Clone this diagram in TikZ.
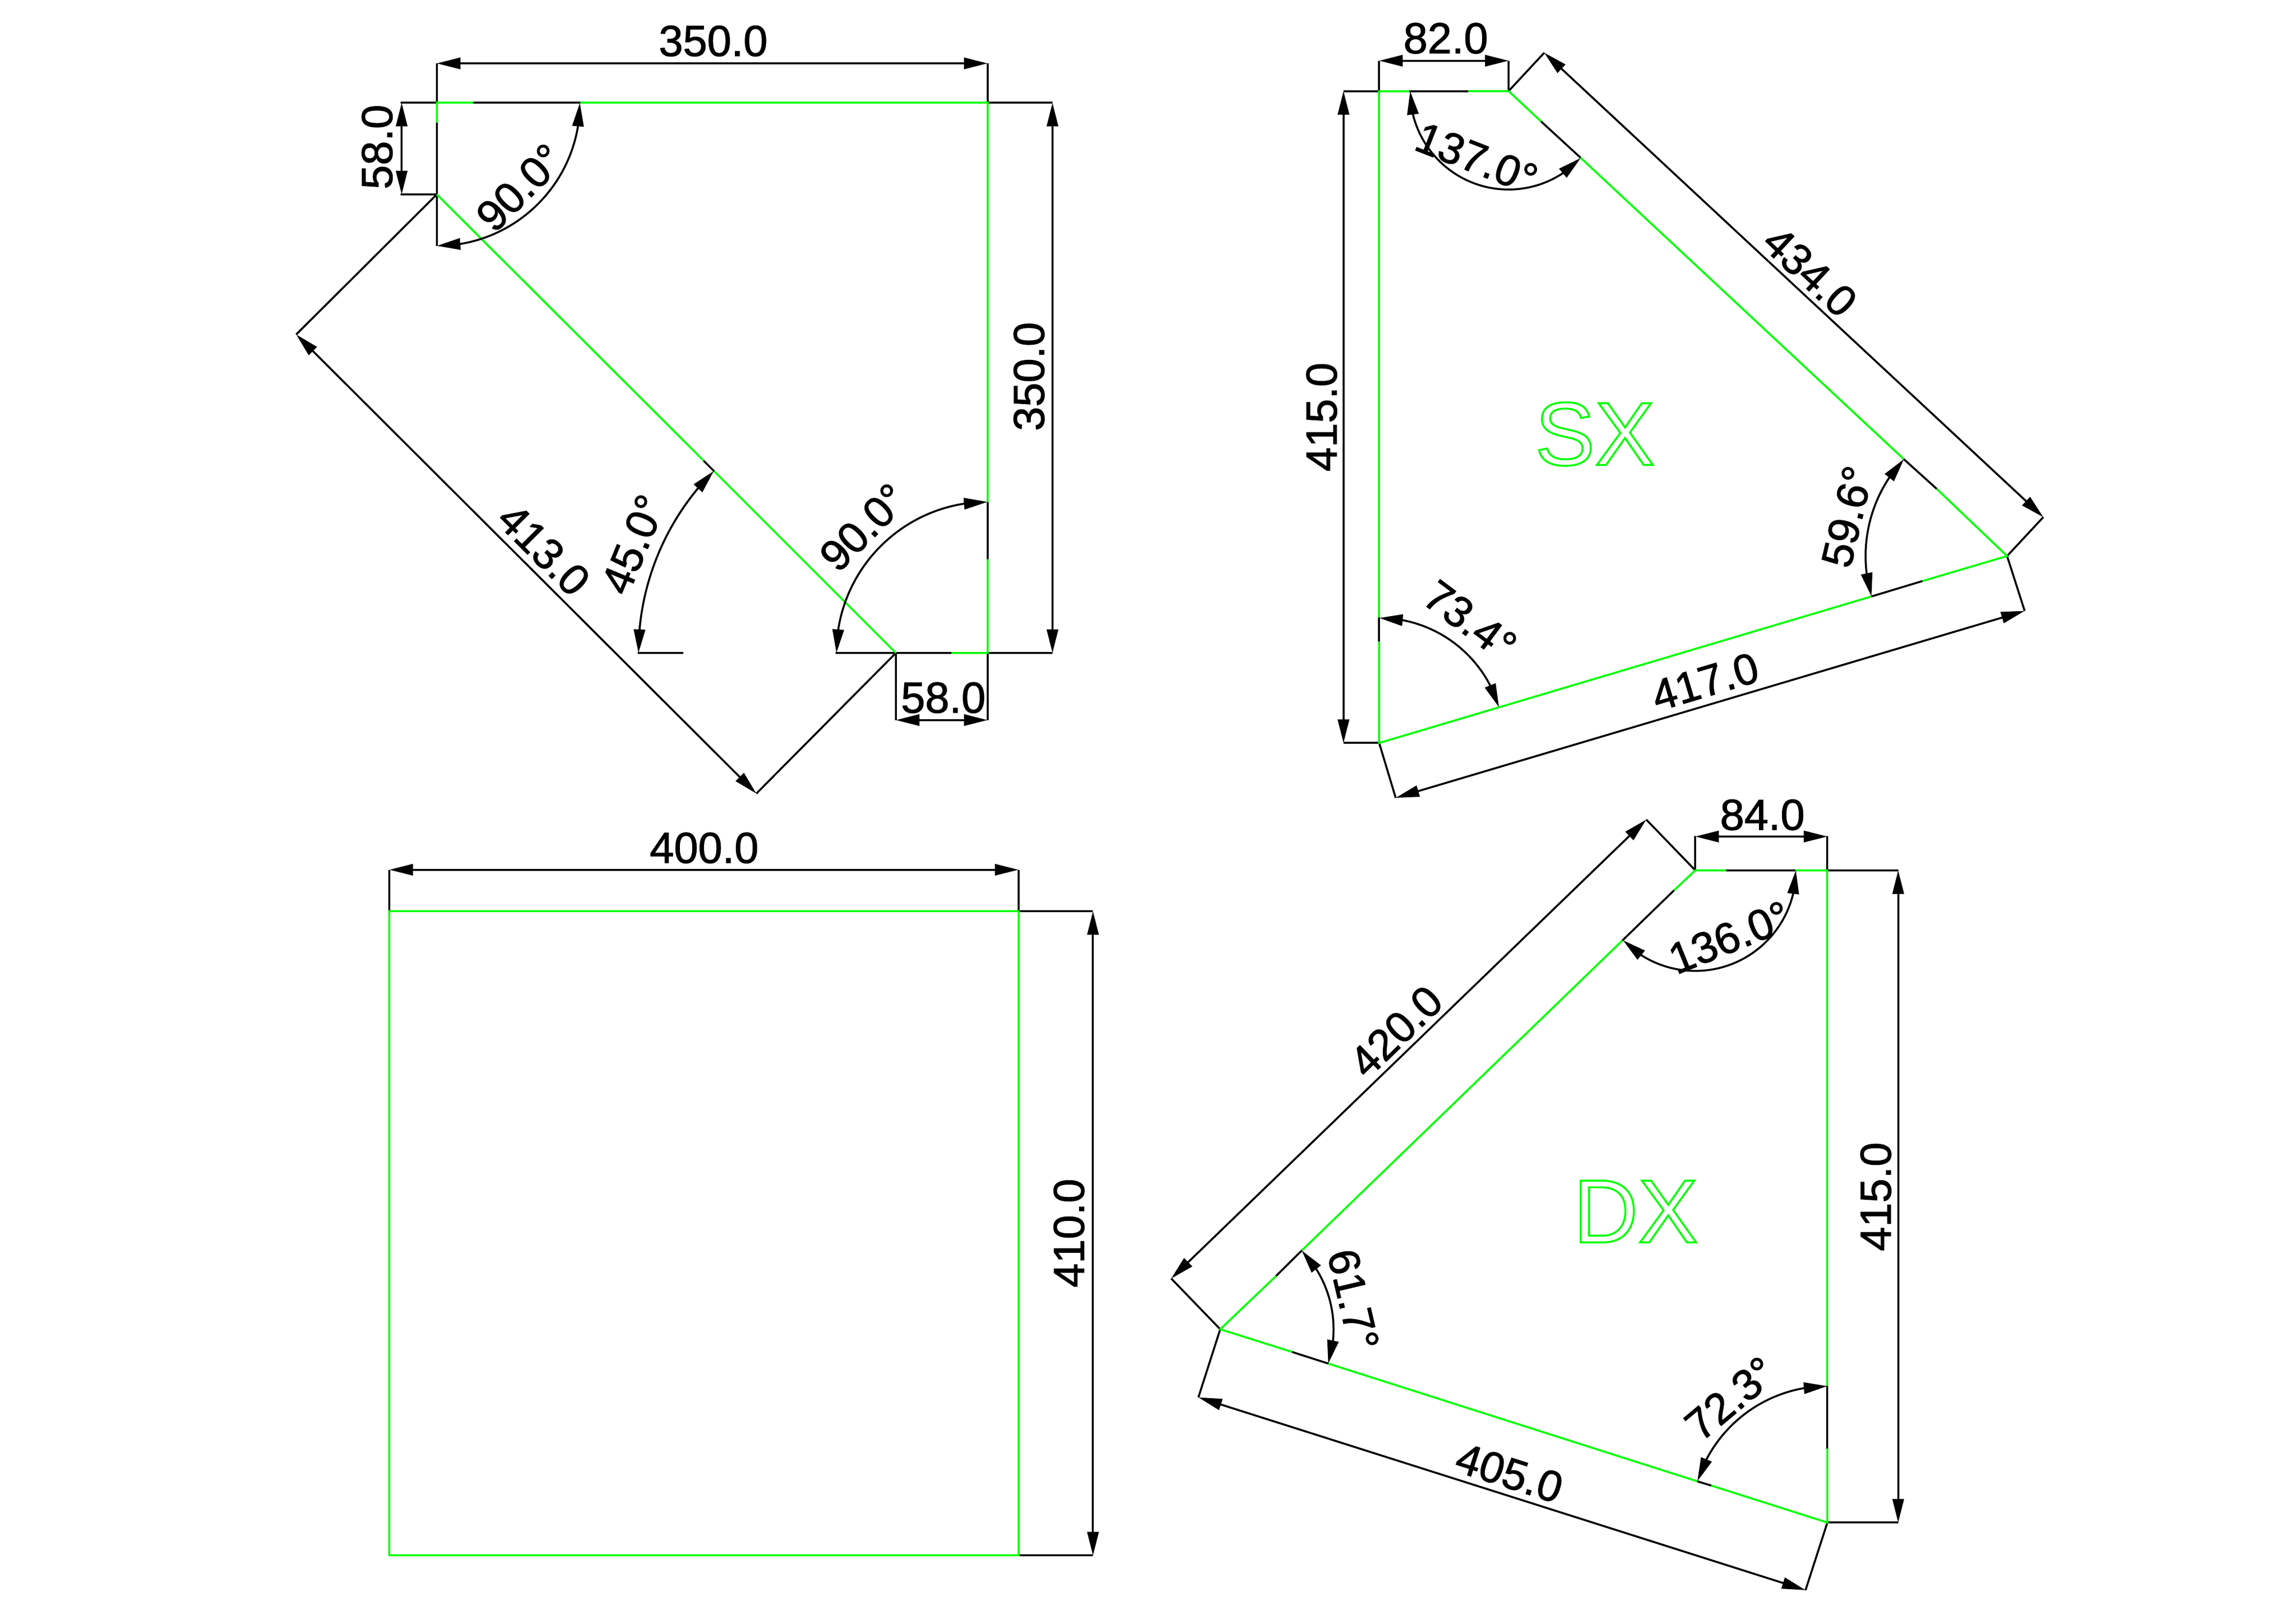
\documentclass[tikz,border=0pt]{standalone}
\usepackage{fontspec}
\setmainfont{Liberation Sans}
\usetikzlibrary{arrows.meta,bending}
\definecolor{cadgreen}{RGB}{0,255,0}
\tikzset{
  blk/.style={draw=black,line width=0.04cm},
  grn/.style={draw=cadgreen,line width=0.04cm},
  dimline/.style={draw=black,line width=0.04cm,{Triangle[length=0.48cm,width=0.23cm]}-{Triangle[length=0.48cm,width=0.23cm]}},
  lbl/.style={inner sep=0pt,outer sep=0pt,font=\fontsize{25.2pt}{28pt}\selectfont,
    execute at begin node={\special{pdf:code 2 Tr 0.35 w 0 G}},
    execute at end node={\special{pdf:code 0 Tr}}},
  outlbl/.style={inner sep=0pt,outer sep=0pt,font=\fontsize{52pt}{56pt}\selectfont,
    execute at begin node={\special{pdf:code 1 Tr 1.1 w 0 1 0 RG}},
    execute at end node={\special{pdf:code 0 Tr}}},
  panel/.style={x=0.010842cm,y=-0.010842cm}
}
\newcommand\angarc[5]{%
  \pgfmathsetmacro\myrad{#3*0.01}%
  \path (#1,#2) ++({-(#4)}:\myrad cm) coordinate (arcstart);
  \draw[dimline] (arcstart) arc[start angle={-(#4)},end angle={-(#5)},radius=\myrad cm];}
\begin{document}
\begin{tikzpicture}
\useasboundingbox (0,0) rectangle (46.77,-33.07);
\fill[white] (0,0) rectangle (46.77,-33.07);

% ---- top left panel
\begin{scope}[panel,xshift=5.6cm]
\draw[blk] (304,193)--(304,462);
\draw[blk] (236,193)--(573,193);
\draw[blk] (304,365)--(236,365);
\draw[blk] (304,365)--(40,628);
\draw[blk] (1166,1226)--(904,1490);
\draw[blk] (805,865)--(825,885);
\draw[blk] (681,1226)--(767,1226);
\draw[blk] (1053,1226)--(1460,1226);
\draw[blk] (1338,943)--(1338,1050);
\draw[blk] (1338,193)--(1460,193);
\draw[blk] (304,193)--(304,119);
\draw[blk] (1338,193)--(1338,119);
\draw[blk] (1166,1226)--(1166,1352);
\draw[blk] (1338,1226)--(1338,1352);
\draw[grn] (304,230)--(304,193)--(372,193);
\draw[grn] (573,193)--(1338,193)--(1338,943);
\draw[grn] (1338,1050)--(1338,1226)--(1270,1226);
\draw[grn] (304,365)--(805,865);
\draw[grn] (825,885)--(1166,1226);
\draw[dimline] (304,119)--(1338,119);
\draw[dimline] (238,193)--(238,365);
\draw[dimline] (1460,193)--(1460,1226);
\draw[dimline] (1166,1352)--(1338,1352);
\draw[dimline] (40,628)--(904,1490);
\angarc{304}{193}{291.6}{0}{90}
\angarc{1166}{1226}{524.7}{225}{180}
\angarc{1338}{1226}{307.9}{270}{180}
\node[lbl] (a1) at (823,77) {350.0};
\node[lbl,rotate=90] (a2) at (192,276) {58.0};
\node[lbl,rotate=90] (a3) at (1416,707) {350.0};
\node[lbl] (a4) at (1255,1310) {58.0};
\node[lbl,rotate=-45] (a5) at (505,1032) {413.0};
\node[lbl,rotate=67.5] (a6) at (673,1022) {45.0°};
\node[lbl,rotate=45] (a7) at (460,352) {90.0°};
\node[lbl,rotate=45] (a8) at (1105,990) {90.0°};
\end{scope}

% ---- top right panel (SX)
\begin{scope}[panel,xshift=26cm]
\draw[blk] (193,171)--(193,114);
\draw[blk] (436,171)--(436,114);
\draw[blk] (193,171)--(126,171);
\draw[blk] (193,1395)--(126,1395);
\draw[blk] (250,171)--(360,171);
\draw[blk] (193,1160)--(193,1205);
\draw[blk] (497,228)--(571,296);
\draw[blk] (1178,862)--(1240,918);
\draw[blk] (1213,1091)--(1117,1120);
\draw[blk] (436,171)--(503,99);
\draw[blk] (1372,1044)--(1440,971);
\draw[blk] (1372,1044)--(1405,1147);
\draw[blk] (193,1395)--(224,1498);
\draw[grn] (250,171)--(193,171)--(193,1160);
\draw[grn] (193,1205)--(193,1395)--(1117,1120);
\draw[grn] (360,171)--(436,171)--(497,228);
\draw[grn] (571,296)--(1178,862);
\draw[grn] (1240,918)--(1372,1044)--(1213,1091);
\draw[dimline] (193,114)--(436,114);
\draw[dimline] (126,171)--(126,1395);
\draw[dimline] (503,99)--(1440,971);
\draw[dimline] (224,1498)--(1405,1147);
\angarc{436}{171}{200.6}{180}{42.8}
\angarc{1372}{1044}{288.4}{223.2}{163.4}
\angarc{193}{1395}{254.8}{270}{343.4}
\node[lbl] (b1) at (318,72) {82.0};
\node[lbl,rotate=90] (b2) at (85,783) {415.0};
\node[lbl,rotate=-43] (b3) at (1002,510) {434.0};
\node[lbl,rotate=16.6] (b4) at (805,1280) {417.0};
\node[lbl,rotate=-21.4] (b5) at (376,297) {137.0°};
\node[lbl,rotate=76.7] (b6) at (1072,970) {59.6°};
\node[lbl,rotate=-36.7] (b7) at (364,1165) {73.4°};
\node[outlbl] (b8) at (598,815) {SX};
\end{scope}

% ---- bottom right panel (DX)
\begin{scope}[x=0.010842cm,y=-0.010759cm,xshift=23.5cm,yshift=-16.2cm]
\draw[blk] (1017,142)--(1017,77);
\draw[blk] (1265,142)--(1265,77);
\draw[blk] (1265,142)--(1398,142);
\draw[blk] (1265,1377)--(1398,1377);
\draw[blk] (1075,142)--(1205,142);
\draw[blk] (1265,1118)--(1265,1237);
\draw[blk] (977,180)--(880,275);
\draw[blk] (278,862)--(230,910);
\draw[blk] (260,1054)--(328,1076);
\draw[blk] (1021,1299)--(1047,1307);
\draw[blk] (1017,142)--(925,46);
\draw[blk] (125,1011)--(33,915);
\draw[blk] (125,1011)--(84,1140);
\draw[blk] (1265,1377)--(1224,1505);
\draw[grn] (977,180)--(1017,142)--(1075,142);
\draw[grn] (1205,142)--(1265,142)--(1265,1118);
\draw[grn] (1265,1237)--(1265,1377)--(1047,1307);
\draw[grn] (1021,1299)--(328,1076);
\draw[grn] (260,1054)--(125,1011)--(230,910);
\draw[grn] (278,862)--(880,275);
\draw[dimline] (1017,78)--(1265,78);
\draw[dimline] (1398,142)--(1398,1377);
\draw[dimline] (925,46)--(33,915);
\draw[dimline] (84,1140)--(1224,1505);
\angarc{1017}{142}{205}{0}{135.97}
\angarc{125}{1011}{231}{-44.03}{17.67}
\angarc{1265}{1377}{278}{270}{197.67}
\node[lbl] (c1) at (1143,37) {84.0};
\node[lbl,rotate=90] (c2) at (1356,760) {415.0};
\node[lbl,rotate=44] (c3) at (455,447) {420.0};
\node[lbl,rotate=-17.67] (c4) at (668,1283) {405.0};
\node[lbl,rotate=22] (c5) at (1081,269) {136.0°};
\node[lbl,rotate=-76.8] (c6) at (375,955) {61.7°};
\node[lbl,rotate=40] (c7) at (1083,1142) {72.3°};
\node[outlbl] (c8) at (905,788) {DX};
\end{scope}

% ---- bottom left panel
\begin{scope}[x=0.010842cm,y=-0.010568cm,xshift=7cm,yshift=-16.5cm]
\draw[blk] (86,195)--(86,115);
\draw[blk] (1267,195)--(1267,115);
\draw[blk] (1267,195)--(1407,195);
\draw[blk] (1267,1436)--(1407,1436);
\draw[grn] (86,195) rectangle (1267,1436);
\draw[dimline] (86,115)--(1267,115);
\draw[dimline] (1407,195)--(1407,1436);
\node[lbl] (d1) at (677,73) {400.0};
\node[lbl,rotate=90] (d2) at (1362,815) {410.0};
\end{scope}
\end{tikzpicture}
\end{document}
